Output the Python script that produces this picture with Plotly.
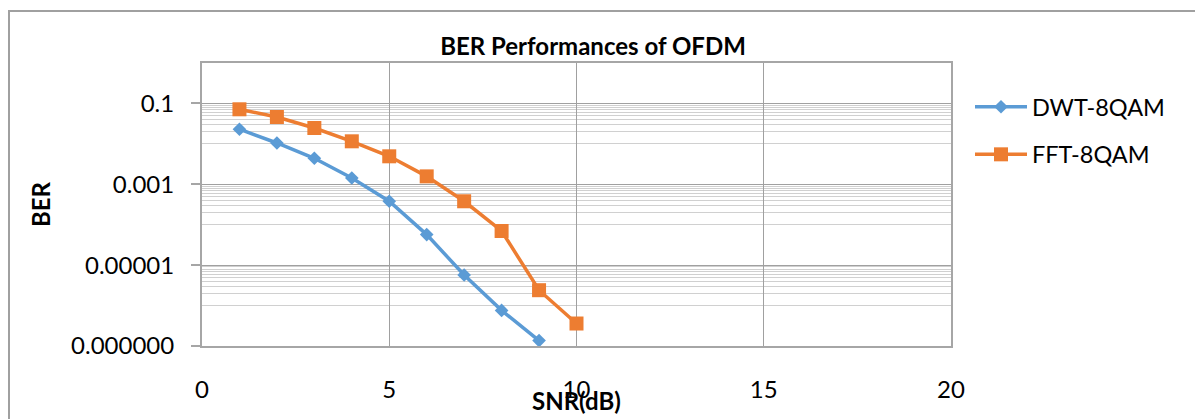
import plotly.graph_objects as go

# ---- data ----
snr_dwt = [1, 2, 3, 4, 5, 6, 7, 8, 9]
ber_dwt = [0.023, 0.0105, 0.0044, 0.00143, 0.00038, 5.7e-5, 5.7e-6, 7.6e-7, 1.36e-7]
snr_fft = [1, 2, 3, 4, 5, 6, 7, 8, 9, 10]
ber_fft = [0.0716, 0.0461, 0.0247, 0.01156, 0.00492, 0.00157, 0.00038, 7.0e-5, 2.4e-6, 3.6e-7]
y_tickvals = [1e-1, 1e-3, 1e-5, 1e-7]
y_ticktext = ["0.1", "0.001", "0.00001", "0.000000"]
x_tickvals = [0, 5, 10, 15, 20]

W, H = 1203, 419
OFF = 8  # default page body margin
L, R, T, B = 202, 951, 63, 346  # plot area in window pixels

FONT = "Lato"
FS = 24
BLUE = "#5B9BD5"
ORANGE = "#ED7D31"

minor_vals = [d * 10.0 ** n for n in (-2, -4, -6) for d in range(1, 10)]

fig = go.Figure()
fig.add_trace(go.Scatter(
    x=snr_dwt, y=ber_dwt, name="DWT-8QAM", mode="lines+markers",
    line=dict(color=BLUE, width=3.5),
    marker=dict(symbol="diamond", size=10.5, color=BLUE),
    legendgroup="a",
))
fig.add_trace(go.Scatter(
    x=snr_fft, y=ber_fft, name="FFT-8QAM", mode="lines+markers",
    line=dict(color=ORANGE, width=3.5),
    marker=dict(symbol="square", size=14, color=ORANGE),
    legendgroup="b",
))

def px_x(p):
    return (p - L) / (R - L)

def px_y(p):
    return (B - p) / (B - T)

fig.update_layout(
    width=W - OFF, height=H - OFF,
    margin=dict(l=L - OFF, r=W - R, t=T - OFF, b=H - B),
    paper_bgcolor="white", plot_bgcolor="white",
    font=dict(family=FONT, size=FS, color="black"),
    title=dict(text="<b>BER Performances of OFDM</b>", x=px_x(593), xref="paper", xanchor="center",
               y=1 - (47 - OFF) / (H - OFF), yref="container", yanchor="middle",
               font=dict(family=FONT, size=FS, color="black")),
    showlegend=True,
    legend=dict(x=px_x(970), xanchor="left", y=px_y(85), yanchor="top",
                font=dict(family=FONT, size=FS - 0.5, color="black"),
                itemwidth=52,
                tracegroupgap=14, bgcolor="rgba(0,0,0,0)"),
    xaxis=dict(range=[0, 20], tickmode="array", tickvals=x_tickvals,
               showgrid=True, gridcolor="#A0A0A0", gridwidth=1.2,
               showline=True, linecolor="#A6A6A6", linewidth=2, mirror=True,
               ticks="", ticklabelstandoff=21, zeroline=False,
               tickfont=dict(family=FONT, size=FS)),
    yaxis=dict(type="log", range=[-7, 0], tickmode="array",
               tickvals=y_tickvals, ticktext=y_ticktext,
               showgrid=True, gridcolor="#A0A0A0", gridwidth=1.2,
               showline=True, linecolor="#A6A6A6", linewidth=2, mirror=True,
               ticks="outside", ticklen=9, tickcolor="#A6A6A6", tickwidth=1.5,
               ticklabelstandoff=12, zeroline=False,
               minor=dict(tickmode="array", tickvals=minor_vals, showgrid=True,
                          gridcolor="#D0D0D0", gridwidth=1, ticks=""),
               tickfont=dict(family=FONT, size=FS)),
    annotations=[
        dict(text="<b>SNR(dB)</b>", x=0.5, xref="paper", y=px_y(400), yref="paper",
             xanchor="center", yanchor="middle", showarrow=False,
             font=dict(family=FONT, size=FS, color="black")),
        dict(text="<b>BER</b>", x=px_x(40), xref="paper", y=px_y(204), yref="paper",
             xanchor="center", yanchor="middle", showarrow=False, textangle=-90,
             font=dict(family=FONT, size=FS, color="black")),
    ],
    shapes=[
        dict(type="rect", xref="paper", yref="paper",
             x0=px_x(OFF + 1), x1=px_x(1215), y0=px_y(430), y1=px_y(11),
             line=dict(color="#A0A0A0", width=2), fillcolor="rgba(0,0,0,0)", layer="below"),
    ],
)

fig.write_html("out.html")
